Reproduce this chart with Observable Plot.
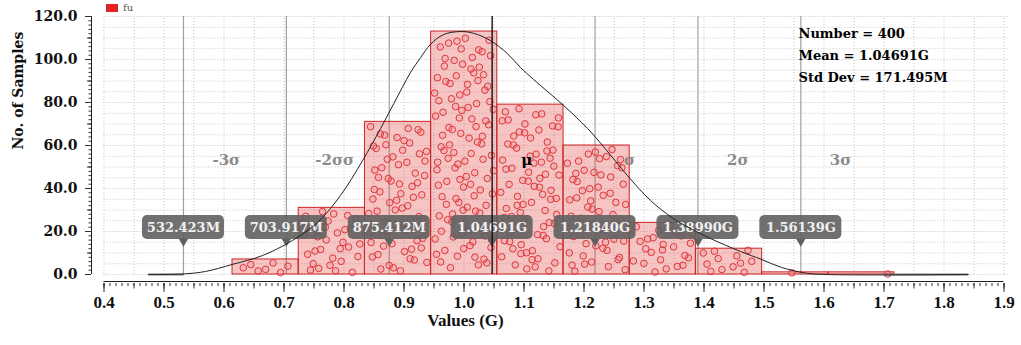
<!DOCTYPE html>
<html><head><meta charset="utf-8">
<script src="https://cdn.jsdelivr.net/npm/d3@7"></script>
<script src="https://cdn.jsdelivr.net/npm/@observablehq/plot@0.6"></script>
<style>
body{margin:0;background:#fff;}
#wrap{position:relative;width:1021px;height:345px;}
#legend{position:absolute;left:106px;top:2px;font:10px "DejaVu Serif";color:#555;display:flex;align-items:center;z-index:2;}
#legend .sw{display:inline-block;width:12px;height:8px;background:#e32228;margin-right:5px;}
</style></head><body>
<div id="wrap"><div id="legend"><span class="sw"></span>fu</div></div>
<script>
// ---- data ----
const binEdges  = [0.6142, 0.7245, 0.8349, 0.9452, 1.0555, 1.1659, 1.2762, 1.3865, 1.4969, 1.6072, 1.7175];
const binCounts = [7, 31, 71, 113, 79, 60, 24, 12, 1, 1];
const curveX = [0.474, 0.534, 0.569, 0.614, 0.664, 0.714, 0.756, 0.794, 0.831, 0.861, 0.883, 0.911, 0.928, 0.944, 0.966, 0.994, 1.016, 1.044, 1.0725, 1.094, 1.116, 1.166, 1.206, 1.2325, 1.2725, 1.311, 1.349, 1.3775, 1.411, 1.461, 1.496, 1.529, 1.569, 1.603, 1.841];
const curveY = [0, 0.3, 1.4, 4.7, 8.8, 15.8, 24.2, 36.7, 53.0, 67.9, 79.5, 94.0, 101.0, 107.0, 111.6, 113.0, 112.2, 108.8, 102.7, 96.3, 90.7, 78.6, 67.9, 59.5, 46.0, 34.4, 26.0, 21.4, 16.7, 10.7, 7.0, 3.3, 0.7, 0, 0];
const baseTailStart = [0.474, 1.70];
const baseTailEnd   = [0.534, 1.841];
const sigmaValues = [0.532423, 0.703917, 0.875412, 1.04691, 1.21840, 1.38990, 1.56139];
const sigmaTags   = ["532.423M", "703.917M", "875.412M", "1.04691G", "1.21840G", "1.38990G", "1.56139G"];
const sigmaNames  = ["-3σ", "-2σσ", "", "μ", "σ", "2σ", "3σ"];
const statLines   = ["Number = 400", "Mean = 1.04691G", "Std Dev = 171.495M"];
const xTicks = [0.4, 0.5, 0.6, 0.7, 0.8, 0.9, 1.0, 1.1, 1.2, 1.3, 1.4, 1.5, 1.6, 1.7, 1.8, 1.9];
const yTicks = [0, 20, 40, 60, 80, 100, 120];

// ---- derived tables ----
const bins = binCounts.map((c, i) => ({x0: binEdges[i], x1: binEdges[i + 1], count: c}));
function halton(i, b) { let f = 1, r = 0; while (i > 0) { f /= b; r += f * (i % b); i = Math.floor(i / b); } return r; }
// deterministic jitter of the samples inside each bar
const samples = []; let k = 0;
bins.forEach(b => { for (let j = 0; j < b.count; j++) { k++; samples.push({x: b.x0 + (b.x1 - b.x0) * (0.05 + 0.9 * halton(k, 2)), y: b.count * (0.02 + 0.96 * halton(k, 3))}); } });
const curve = curveX.map((x, i) => ({x, y: curveY[i]}));
const tails = baseTailStart.map((s, i) => ({x1: s, x2: baseTailEnd[i]}));
const sig = sigmaValues.map((v, i) => ({v, tag: sigmaTags[i], name: sigmaNames[i], mean: i === 3}));
const xMinor = d3.range(40, 191, 1).map(d => d / 100);
const xMid = d3.range(40, 191, 5).map(d => d / 100);
const yMinor = d3.range(0, 121, 2);
const yMid = d3.range(0, 121, 10);

const serif = "DejaVu Serif", tnr = "Liberation Serif";
const tagY = 21.9;

const plot = Plot.plot({
  width: 1021, height: 345,
  marginLeft: 103.5, marginRight: 13, marginTop: 16, marginBottom: 69,
  x: {domain: [0.4, 1.9075]},
  y: {domain: [-0.93, 120]},
  style: {background: "white", overflow: "visible"},
  marks: [
    // grid
    Plot.ruleX(xMid, {y1: 0, y2: 120, stroke: "#c4c4c4", strokeDasharray: "1,2"}),
    Plot.ruleY(d3.range(0, 121, 5), {x1: 0.4, x2: 1.9075, stroke: "#c4c4c4", strokeDasharray: "1,2"}),
    // sigma lines
    Plot.ruleX(sig.filter(d => !d.mean), {x: "v", y1: 0, y2: 120, stroke: "#a0a0a0", strokeWidth: 1.2}),
    // histogram
    Plot.rectY(bins, {x1: "x0", x2: "x1", y: "count", fill: "#e63c3c", fillOpacity: 0.3, stroke: "#cc2424", strokeWidth: 1}),
    Plot.dot(samples, {x: "x", y: "y", r: 3.3, stroke: "#e0343a", strokeWidth: 1, fill: "#f08080", fillOpacity: 0.2}),
    // value tags
    Plot.rect(sig, {x1: "v", x2: "v", y1: tagY, y2: tagY, insetLeft: -41, insetRight: -41, insetTop: -12, insetBottom: -12, rx: 5, fill: "#606060", fillOpacity: 0.9}),
    Plot.dot(sig, {x: "v", y: tagY, dy: 14, symbol: "triangle", rotate: 180, r: 3.5, fill: "#606060"}),
    Plot.text(sig, {x: "v", y: tagY, text: "tag", fill: "#f0f0f0", fontFamily: serif, fontWeight: "bold", fontSize: 13}),
    // mean line
    Plot.ruleX(sig.filter(d => d.mean), {x: "v", y1: 0, y2: 120, stroke: "#111", strokeWidth: 1.4}),
    // fitted curve
    Plot.ruleY(tails, {x1: "x1", x2: "x2", y: 0, stroke: "#808080", strokeWidth: 2}),
    Plot.line(curve, {x: "x", y: "y", curve: "catmull-rom", stroke: "#222", strokeWidth: 1}),
    // sigma names
    Plot.text(sig, {x: "v", y: 53, dx: 29, text: "name", textAnchor: "start", fill: d => d.mean ? "#000" : "#8c8c8c", fontFamily: serif, fontWeight: "bold", fontSize: 15}),
    // stats
    Plot.text([statLines.join("\n")], {frameAnchor: "top-left", dx: 694.5, dy: 6, lineAnchor: "top", lineHeight: 1.69, textAnchor: "start", fontFamily: serif, fontWeight: "bold", fontSize: 13, fill: "#000"}),
    // x axis
    Plot.ruleY([0], {x1: 0.4, x2: 1.9, dy: 7, stroke: "#222"}),
    Plot.axisX({ticks: xMinor, tickSize: 3, dy: 7, tickFormat: () => "", label: null, stroke: "#333"}),
    Plot.axisX({ticks: xMid, tickSize: 5.5, dy: 7, tickFormat: () => "", label: null, stroke: "#333"}),
    Plot.axisX({ticks: xTicks, tickSize: 9, dy: 7, tickPadding: 3, tickFormat: d => d.toFixed(1), label: null, fontFamily: tnr, fontWeight: "bold", fontSize: 17, fill: "#111", stroke: "#333"}),
    Plot.text(["Values (G)"], {frameAnchor: "bottom", dx: -90.75, dy: 49, fontFamily: tnr, fontWeight: "bold", fontSize: 17, fill: "#111"}),
    // y axis
    Plot.ruleX([0.4], {y1: 0, y2: 120, dx: -12.5, stroke: "#222"}),
    Plot.axisY({ticks: yMinor, tickSize: 2.5, dx: -12.5, tickFormat: () => "", label: null, stroke: "#333"}),
    Plot.axisY({ticks: yMid, tickSize: 4, dx: -12.5, tickFormat: () => "", label: null, stroke: "#333"}),
    Plot.axisY({ticks: yTicks, tickSize: 6, dx: -12.5, tickPadding: 8, tickFormat: d => d.toFixed(1), label: null, fontFamily: serif, fontWeight: "bold", fontSize: 14, fill: "#111", stroke: "#333"}),
    Plot.text(["No. of Samples"], {frameAnchor: "left", dx: -85.5, dy: 3, rotate: -90, fontFamily: serif, fontWeight: "bold", fontSize: 14, fill: "#111"})
  ]
});
document.getElementById("wrap").appendChild(plot);
</script>
</body></html>
